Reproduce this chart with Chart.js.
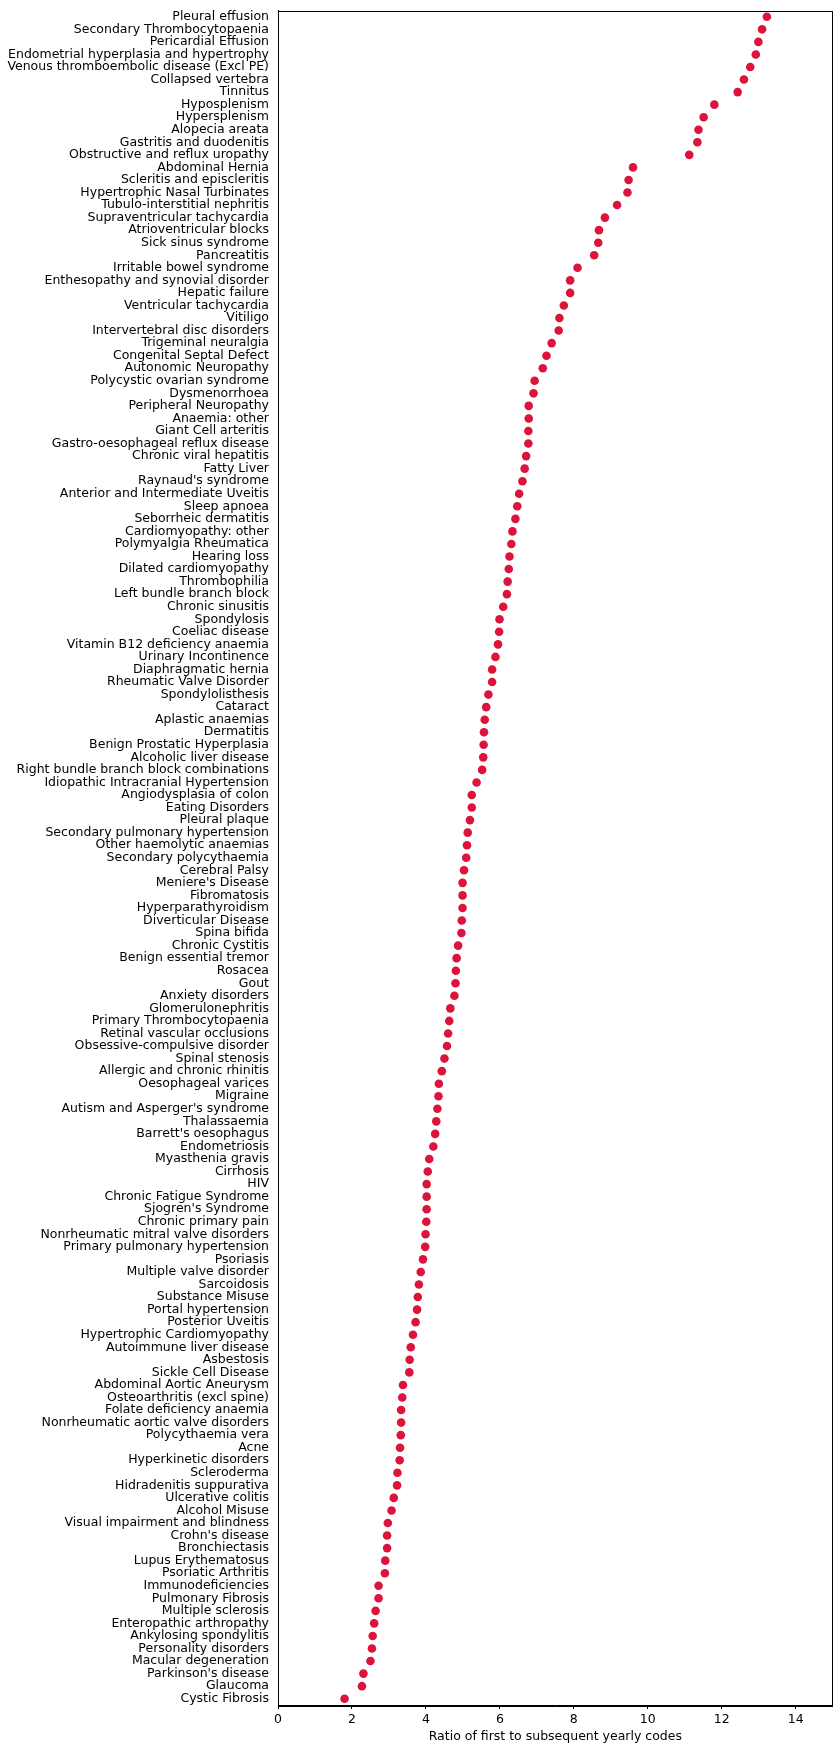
<!DOCTYPE html>
<html>
<head>
<meta charset="utf-8">
<script src="https://cdn.jsdelivr.net/npm/chart.js@4.4.1/dist/chart.umd.min.js"></script>
<style>
  html, body { margin: 0; padding: 0; background: #fff; }
  #wrap { width: 837px; height: 1753px; position: relative; }
</style>
</head>
<body>
<div id="wrap"><canvas id="ratioChart"></canvas></div>
<script>
// conditions, top to bottom
const conditions = [
  "Pleural effusion", "Secondary Thrombocytopaenia", "Pericardial Effusion",
  "Endometrial hyperplasia and hypertrophy", "Venous thromboembolic disease (Excl PE)",
  "Collapsed vertebra", "Tinnitus", "Hyposplenism", "Hypersplenism", "Alopecia areata",
  "Gastritis and duodenitis", "Obstructive and reflux uropathy", "Abdominal Hernia",
  "Scleritis and episcleritis", "Hypertrophic Nasal Turbinates", "Tubulo-interstitial nephritis",
  "Supraventricular tachycardia", "Atrioventricular blocks", "Sick sinus syndrome",
  "Pancreatitis", "Irritable bowel syndrome", "Enthesopathy and synovial disorder",
  "Hepatic failure", "Ventricular tachycardia", "Vitiligo", "Intervertebral disc disorders",
  "Trigeminal neuralgia", "Congenital Septal Defect", "Autonomic Neuropathy",
  "Polycystic ovarian syndrome", "Dysmenorrhoea", "Peripheral Neuropathy", "Anaemia: other",
  "Giant Cell arteritis", "Gastro-oesophageal reflux disease", "Chronic viral hepatitis",
  "Fatty Liver", "Raynaud's syndrome", "Anterior and Intermediate Uveitis", "Sleep apnoea",
  "Seborrheic dermatitis", "Cardiomyopathy: other", "Polymyalgia Rheumatica", "Hearing loss",
  "Dilated cardiomyopathy", "Thrombophilia", "Left bundle branch block", "Chronic sinusitis",
  "Spondylosis", "Coeliac disease", "Vitamin B12 deficiency anaemia", "Urinary Incontinence",
  "Diaphragmatic hernia", "Rheumatic Valve Disorder", "Spondylolisthesis", "Cataract",
  "Aplastic anaemias", "Dermatitis", "Benign Prostatic Hyperplasia", "Alcoholic liver disease",
  "Right bundle branch block combinations", "Idiopathic Intracranial Hypertension",
  "Angiodysplasia of colon", "Eating Disorders", "Pleural plaque",
  "Secondary pulmonary hypertension", "Other haemolytic anaemias", "Secondary polycythaemia",
  "Cerebral Palsy", "Meniere's Disease", "Fibromatosis", "Hyperparathyroidism",
  "Diverticular Disease", "Spina bifida", "Chronic Cystitis", "Benign essential tremor",
  "Rosacea", "Gout", "Anxiety disorders", "Glomerulonephritis", "Primary Thrombocytopaenia",
  "Retinal vascular occlusions", "Obsessive-compulsive disorder", "Spinal stenosis",
  "Allergic and chronic rhinitis", "Oesophageal varices", "Migraine",
  "Autism and Asperger's syndrome", "Thalassaemia", "Barrett's oesophagus", "Endometriosis",
  "Myasthenia gravis", "Cirrhosis", "HIV", "Chronic Fatigue Syndrome", "Sjogren's Syndrome",
  "Chronic primary pain", "Nonrheumatic mitral valve disorders", "Primary pulmonary hypertension",
  "Psoriasis", "Multiple valve disorder", "Sarcoidosis", "Substance Misuse", "Portal hypertension",
  "Posterior Uveitis", "Hypertrophic Cardiomyopathy", "Autoimmune liver disease", "Asbestosis",
  "Sickle Cell Disease", "Abdominal Aortic Aneurysm", "Osteoarthritis (excl spine)",
  "Folate deficiency anaemia", "Nonrheumatic aortic valve disorders", "Polycythaemia vera",
  "Acne", "Hyperkinetic disorders", "Scleroderma", "Hidradenitis suppurativa",
  "Ulcerative colitis", "Alcohol Misuse", "Visual impairment and blindness", "Crohn's disease",
  "Bronchiectasis", "Lupus Erythematosus", "Psoriatic Arthritis", "Immunodeficiencies",
  "Pulmonary Fibrosis", "Multiple sclerosis", "Enteropathic arthropathy",
  "Ankylosing spondylitis", "Personality disorders", "Macular degeneration",
  "Parkinson's disease", "Glaucoma", "Cystic Fibrosis"
];

// ratio of first-year to subsequent-year codes, same order
const ratios = [
  13.22, 13.09, 12.99, 12.92, 12.77, 12.60, 12.43, 11.80, 11.51, 11.37,
  11.34, 11.12, 9.60, 9.48, 9.45, 9.17, 8.84, 8.68, 8.66, 8.55,
  8.10, 7.90, 7.90, 7.73, 7.61, 7.59, 7.40, 7.26, 7.16, 6.94,
  6.91, 6.78, 6.78, 6.77, 6.77, 6.71, 6.67, 6.61, 6.52, 6.47,
  6.42, 6.34, 6.31, 6.26, 6.24, 6.21, 6.19, 6.09, 5.99, 5.98,
  5.95, 5.88, 5.79, 5.79, 5.69, 5.63, 5.59, 5.57, 5.56, 5.55,
  5.52, 5.37, 5.24, 5.24, 5.19, 5.13, 5.11, 5.09, 5.03, 4.99,
  4.99, 4.99, 4.97, 4.96, 4.87, 4.83, 4.81, 4.80, 4.77, 4.66,
  4.63, 4.60, 4.57, 4.50, 4.43, 4.35, 4.34, 4.31, 4.28, 4.25,
  4.20, 4.09, 4.05, 4.02, 4.02, 4.02, 4.01, 3.99, 3.98, 3.92,
  3.86, 3.81, 3.78, 3.76, 3.72, 3.65, 3.59, 3.56, 3.55, 3.38,
  3.36, 3.33, 3.33, 3.32, 3.30, 3.29, 3.23, 3.22, 3.13, 3.07,
  2.97, 2.95, 2.95, 2.90, 2.89, 2.72, 2.72, 2.64, 2.60, 2.56,
  2.54, 2.50, 2.31, 2.27, 1.80
];

const xTicks = [0, 2, 4, 6, 8, 10, 12, 14];
const xTitle = "Ratio of first to subsequent yearly codes";

Chart.defaults.font.family = "'DejaVu Sans', sans-serif";
Chart.defaults.font.size = 12.5;
Chart.defaults.color = '#000';

// box around the plot area (top and right sides)
const frame = {
  id: 'frame',
  beforeDatasetsDraw(chart) {
    const { ctx, chartArea: a } = chart;
    ctx.save();
    ctx.strokeStyle = '#000';
    ctx.lineWidth = 1;
    ctx.strokeRect(Math.round(a.left) + 0.5, Math.round(a.top) + 0.5,
                   Math.round(a.right - a.left) - 1, Math.round(a.bottom - a.top));
    ctx.restore();
  }
};

new Chart(document.getElementById('ratioChart'), {
  type: 'scatter',
  data: {
    labels: conditions,
    datasets: [{
      data: conditions.map((c, i) => ({ x: ratios[i], y: c })),
      backgroundColor: '#dc143c',
      borderColor: '#dc143c',
      borderWidth: 0,
      pointRadius: 4.3,
      pointHoverRadius: 4.3
    }]
  },
  plugins: [frame],
  options: {
    responsive: true,
    maintainAspectRatio: false,
    animation: false,
    layout: { padding: { top: 7, right: 1, bottom: 0, left: 0 } },
    plugins: { legend: { display: false }, tooltip: { enabled: false } },
    scales: {
      x: {
        type: 'linear',
        min: 0,
        max: 15,
        afterBuildTicks: s => { s.ticks = xTicks.map(v => ({ value: v })); },
        afterFit: s => { s.height = 48; },
        grid: { display: true, drawOnChartArea: false, tickLength: 4, color: '#000' },
        border: { display: true, color: '#000', width: 1 },
        ticks: { padding: 3, maxRotation: 0 },
        title: { display: true, text: xTitle, padding: { top: 2, bottom: 9 } }
      },
      y: {
        type: 'category',
        labels: conditions,
        offset: true,
        afterFit: s => { s.width = 278; },
        // tick marks invisible on this side, they only space the labels off the axis
        grid: { display: true, drawOnChartArea: false, tickLength: 6, color: 'rgba(0,0,0,0)' },
        border: { display: true, color: '#000', width: 1 },
        ticks: { autoSkip: false, padding: 3 }
      }
    }
  }
});
</script>
</body>
</html>
